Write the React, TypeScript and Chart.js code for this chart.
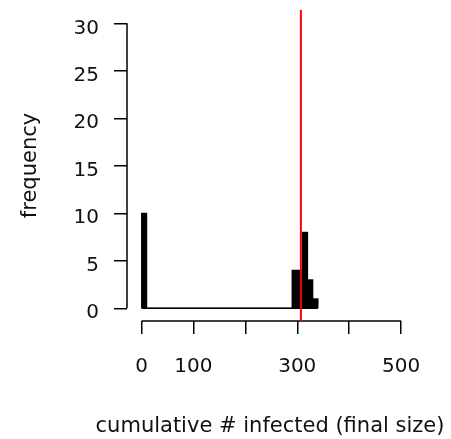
import { useEffect, useRef } from 'react';
import { Chart, registerables } from 'chart.js';

Chart.register(...registerables);

// Histogram of final outbreak sizes: bins of width 10 starting at 0
const binStart = 0;
const binWidth = 10;
const binCounts = [
  10, 0, 0, 0, 0, 0, 0, 0, 0, 0,
  0, 0, 0, 0, 0, 0, 0, 0, 0, 0,
  0, 0, 0, 0, 0, 0, 0, 0, 0, 4,
  4, 8, 3, 1,
];

// Vertical reference line (red)
const markerValue = 307;

const xTickValues = [0, 100, 200, 300, 400, 500];
const xTickLabels = ['0', '100', '', '300', '', '500'];
const yTickValues = [0, 5, 10, 15, 20, 25, 30];

const xTitle = 'cumulative # infected (final size)';
const yTitle = 'frequency';

const X_MIN = -28;
const X_MAX = 523;
const Y_MIN = -1.34;
const Y_MAX = 31.4;

const FONT = 'DejaVu Sans';
const TEXT = '#111';

// Detached axis lines spanning only the first to last tick, base-graphics style
const detachedAxes = {
  id: 'detachedAxes',
  beforeDatasetsDraw(chart: any) {
    const { ctx, scales } = chart;
    const x = scales.x;
    const y = scales.y;
    ctx.save();
    ctx.strokeStyle = '#000';
    ctx.lineWidth = 1.5;
    ctx.beginPath();
    const xl = x.getPixelForValue(xTickValues[0]);
    const xr = x.getPixelForValue(xTickValues[xTickValues.length - 1]);
    ctx.moveTo(xl, x.top);
    ctx.lineTo(xr, x.top);
    const yb = y.getPixelForValue(yTickValues[0]);
    const yt = y.getPixelForValue(yTickValues[yTickValues.length - 1]);
    ctx.moveTo(y.right, yb);
    ctx.lineTo(y.right, yt);
    ctx.stroke();
    ctx.restore();
  },
  // x-axis title drawn at full width (wider than the plotting area)
  afterDraw(chart: any) {
    const { ctx, chartArea } = chart;
    ctx.save();
    ctx.fillStyle = TEXT;
    ctx.font = `21px "${FONT}"`;
    ctx.textAlign = 'center';
    ctx.textBaseline = 'alphabetic';
    ctx.fillText(xTitle, (chartArea.left + chartArea.right) / 2, 432);
    ctx.restore();
  },
};

export default function App() {
  const canvasRef = useRef<HTMLCanvasElement | null>(null);

  useEffect(() => {
    const canvas = canvasRef.current;
    if (!canvas) return;

    const bars = binCounts.map((c, i) => ({ x: binStart + binWidth * (i + 0.5), y: c }));
    const baseline = [
      { x: binStart, y: 0 },
      { x: binStart + binWidth * binCounts.length, y: 0 },
    ];
    const marker = [
      { x: markerValue, y: Y_MIN },
      { x: markerValue, y: Y_MAX },
    ];

    const chart = new Chart(canvas, {
      type: 'bar',
      data: {
        datasets: [
          {
            type: 'bar',
            data: bars,
            backgroundColor: '#000',
            borderWidth: 0,
            barPercentage: 1,
            categoryPercentage: 1,
            inflateAmount: 0.5,
            order: 1,
          } as any,
          {
            type: 'line',
            data: baseline,
            borderColor: '#000',
            borderWidth: 1.5,
            pointRadius: 0,
            order: 2,
          },
          {
            type: 'line',
            data: marker,
            borderColor: '#ff0000',
            borderWidth: 2,
            pointRadius: 0,
            order: 0,
          },
        ],
      },
      options: {
        animation: false,
        responsive: false,
        devicePixelRatio: 1,
        layout: { padding: { top: 10, right: 38, left: 0, bottom: 0 } },
        plugins: {
          legend: { display: false },
          tooltip: { enabled: false },
        },
        scales: {
          x: {
            type: 'linear',
            min: X_MIN,
            max: X_MAX,
            offset: false,
            afterBuildTicks: (s: any) => {
              s.ticks = xTickValues.map((v) => ({ value: v }));
            },
            afterFit: (s: any) => {
              s.height = 118;
              s.paddingLeft = 0;
              s.paddingRight = 0;
            },
            border: { display: false },
            grid: {
              drawOnChartArea: false,
              offset: false,
              tickLength: 13,
              color: '#000',
              lineWidth: 1.5,
            },
            ticks: {
              autoSkip: false,
              maxRotation: 0,
              padding: 21,
              color: TEXT,
              font: { family: FONT, size: 20 },
              callback: (_v: any, i: number) => xTickLabels[i],
            },
          },
          y: {
            type: 'linear',
            min: Y_MIN,
            max: Y_MAX,
            afterBuildTicks: (s: any) => {
              s.ticks = yTickValues.map((v) => ({ value: v }));
            },
            afterFit: (s: any) => {
              s.width = 127;
              s.paddingTop = 0;
              s.paddingBottom = 0;
            },
            border: { display: false },
            grid: {
              drawOnChartArea: false,
              tickLength: 13,
              color: '#000',
              lineWidth: 1.5,
            },
            ticks: {
              padding: 15,
              labelOffset: 5,
              color: TEXT,
              font: { family: FONT, size: 20 },
              callback: (v: any) => String(v),
            },
            title: {
              display: true,
              text: yTitle,
              color: TEXT,
              font: { family: FONT, size: 21 },
              padding: { top: 18, bottom: 0 },
            },
          },
        },
      },
      plugins: [detachedAxes],
    });

    return () => chart.destroy();
  }, []);

  return (
    <div style={{ position: 'fixed', left: 0, top: 0, width: 451, height: 439, background: '#fff' }}>
      <canvas ref={canvasRef} width={451} height={439} style={{ width: 451, height: 439, display: 'block' }} />
    </div>
  );
}
